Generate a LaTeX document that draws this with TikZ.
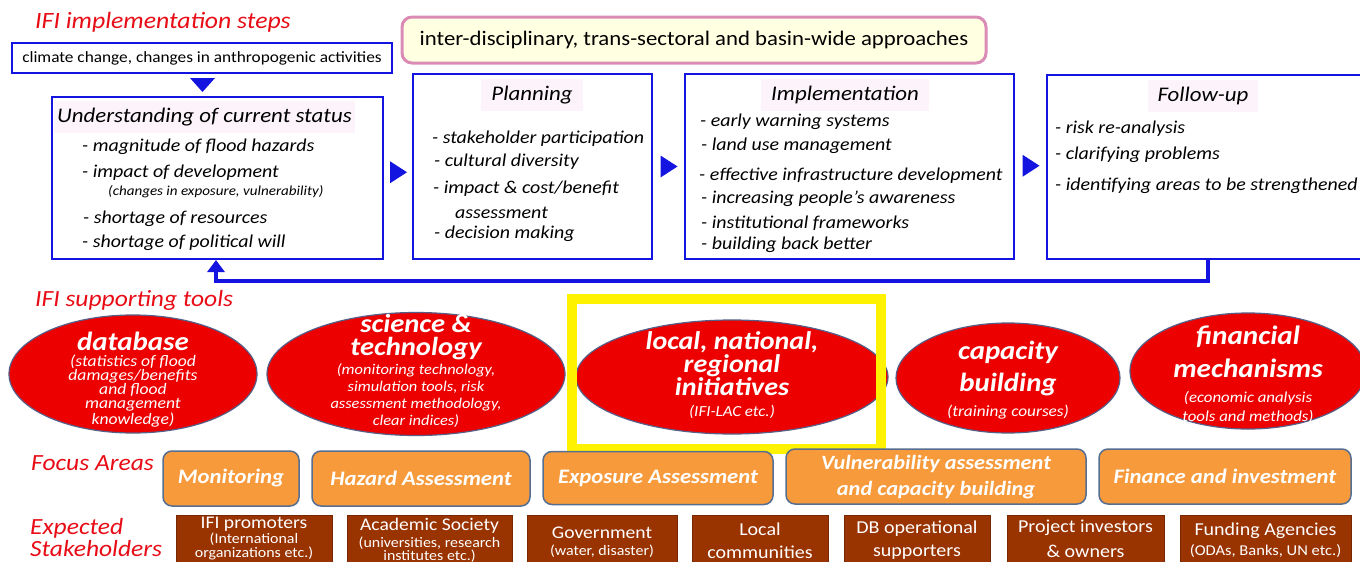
\documentclass[tikz,border=0pt]{standalone}
\usepackage{fontspec}
\setmainfont{Carlito}[FakeStretch=1.1]
\usetikzlibrary{shapes.geometric,arrows.meta,calc}
\definecolor{bb}{RGB}{20,20,225}
\definecolor{rt}{RGB}{232,12,22}
\definecolor{tbg}{RGB}{252,244,250}
\definecolor{pkb}{RGB}{218,140,182}
\definecolor{pkf}{RGB}{255,255,226}
\definecolor{er}{RGB}{236,0,0}
\definecolor{eb}{RGB}{85,95,135}
\definecolor{orf}{RGB}{247,154,60}
\definecolor{orb}{RGB}{85,110,145}
\definecolor{brf}{RGB}{153,51,0}
\definecolor{brb}{RGB}{120,40,0}
\newcommand{\fsz}[2]{\fontsize{#1}{#2}\selectfont}
\begin{document}
\begin{tikzpicture}[x=1pt,y=-1pt,
  stepbox/.style={draw=bb, line width=2pt, fill=white, inner sep=0pt},
  lbl/.style={text=rt, font=\itshape\fsz{23.2}{25}, anchor=west, inner sep=0pt},
  item/.style={font=\itshape\fsz{18.1}{20}, anchor=west, inner sep=0pt},
  ttl/.style={font=\itshape\fsz{20.8}{24}, fill=tbg, inner xsep=10pt, inner ysep=7pt},
  tool/.style={ellipse, draw=eb, line width=1.2pt, fill=er, inner sep=0pt},
  tbig/.style={text=white, font=\bfseries\itshape\fsz{25.5}{23}, align=center, inner sep=0pt},
  tsub/.style={text=white, font=\itshape\fsz{14.9}{17}, align=center, inner sep=0pt},
  focus/.style={rounded corners=9pt, draw=orb, line width=1.5pt, fill=orf, text=white, font=\bfseries\itshape\fsz{20.6}{26}, inner sep=0pt, align=center},
  stake/.style={fill=brf, draw=brb, line width=0.8pt, inner sep=0pt},
  stxt/.style={text=white, font=\fsz{17.8}{20}, inner sep=0pt},
  ssub/.style={text=white, font=\fsz{14.5}{15}, inner sep=0pt},
  tri/.style={fill=bb},
  fb/.style={draw=bb, line width=4pt, -{Triangle[length=12pt,width=17pt]}}
]
\useasboundingbox (0,0) rectangle (1360,562);
\fill[white] (0,0) rectangle (1360,562);

% ---------- implementation steps ----------
\node[lbl, font=\itshape\fsz{23.4}{26}] (l1) at (35,22) {IFI implementation steps};
\node[rounded corners=10pt, draw=pkb, line width=3pt, fill=pkf, minimum width=584pt, minimum height=46pt, inner sep=0pt, font=\fsz{20.7}{22}] (ap) at (694,40) {inter-disciplinary, trans-sectoral and basin-wide approaches};

\node[stepbox, minimum width=380pt, minimum height=30pt, font=\fsz{15.7}{17}] (cl) at (202,58) {climate change, changes in anthropogenic activities};

\node[stepbox, minimum width=331pt, minimum height=162pt] (us) at (217.5,178) {};
\node[stepbox, minimum width=239pt, minimum height=185pt] (pl) at (532.5,166.5) {};
\node[stepbox, minimum width=329pt, minimum height=185pt] (im) at (849.5,166.5) {};
\node[stepbox, minimum width=330pt, minimum height=184pt] (fu) at (1212,167) {};

% arrows between steps
\fill[tri] ($(cl.south)+(-12,4)$) -- ++(25,0) -- ++(-12.5,14) -- cycle;
\fill[tri] ($(us.east)!0.5!(pl.west)+(-8,-11)$) -- ++(17,11) -- ++(-17,11) -- cycle;
\fill[tri] ($(pl.east)!0.5!(im.west)+(-8,-11)$) -- ++(17,11) -- ++(-17,11) -- cycle;
\fill[tri] ($(im.east)!0.5!(fu.west)+(-8,-12)$) -- ++(17,11) -- ++(-17,11) -- cycle;

% Understanding
\node[ttl, anchor=west, inner xsep=3pt] (ust) at (54,117) {Understanding of current status};
\node[item] (u1) at (82,147) {- magnitude of flood hazards};
\node[item] (u2) at (82,173) {- impact of development};
\node[item, font=\itshape\fsz{13.7}{15}] (u3) at (108,192) {(changes in exposure, vulnerability)};
\node[item] (u4) at (83,219) {- shortage of resources};
\node[item] (u5) at (82,243) {- shortage of political will};

% Planning
\node[ttl] (plt) at (532,95) {Planning};
\node[item] (p1) at (432,139) {- stakeholder participation};
\node[item] (p2) at (434,162) {- cultural diversity};
\node[item] (p3) at (433,189) {- impact \& cost/benefit};
\node[item] (p4) at (455,213) {assessment};
\node[item] (p5) at (434,234) {- decision making};

% Implementation
\node[ttl] (imt) at (845,95) {Implementation};
\node[item] (i1) at (700,122) {- early warning systems};
\node[item] (i2) at (701,146) {- land use management};
\node[item] (i3) at (699,176) {- effective infrastructure development};
\node[item] (i4) at (701,199) {- increasing people’s awareness};
\node[item] (i5) at (701,223) {- institutional frameworks};
\node[item] (i6) at (701,245) {- building back better};

% Follow-up
\node[ttl] (fut) at (1203,96) {Follow-up};
\node[item] (f1) at (1055,129) {- risk re-analysis};
\node[item] (f2) at (1055,155) {- clarifying problems};
\node[item] (f3) at (1055,186) {- identifying areas to be strengthened};

% feedback loop
\coordinate (fbs) at (1208,259);
\coordinate (fbe) at (216,259);
\draw[fb] (fu.south -| fbs) -- ++(0,21) -| (us.south -| fbe);

% ---------- supporting tools ----------
\node[lbl] (l2) at (35,300) {IFI supporting tools};

\node[tool, minimum width=248pt, minimum height=118pt] (db) at (133,374) {};
\node[tool, minimum width=298pt, minimum height=123pt] (st) at (416,374) {};
\node[tool, minimum width=312pt, minimum height=114pt] (li) at (732,377) {};
\node[tool, minimum width=224pt, minimum height=110pt] (cb) at (1008,378) {};
\node[tool, minimum width=236pt, minimum height=116pt] (fm) at (1248,371) {};

\node[tbig, font=\bfseries\itshape\fsz{26.3}{22}] (dbt) at (133,341) {database};
\node[tsub, font=\itshape\fsz{16}{14}] (dbs) at (133,391) {(statistics of flood\\damages/benefits\\and flood\\management\\knowledge)};

\node[tbig, font=\bfseries\itshape\fsz{26}{23}] (stt) at (416,337) {science \&\\technology};
\node[tsub] (sts) at (416,396) {(monitoring technology,\\simulation tools, risk\\assessment methodology,\\clear indices)};

\node[tbig] (lit) at (732,364) {local, national,\\regional\\initiatives};
\node[tsub, font=\itshape\fsz{15.4}{16}] (lis) at (732,412) {(IFI-LAC etc.)};

\node[tbig, font=\bfseries\itshape\fsz{26.2}{32}] (cbt) at (1008,369) {capacity\\building};
\node[tsub, font=\itshape\fsz{15.7}{17}] (cbs) at (1008,412) {(training courses)};

\node[tbig, font=\bfseries\itshape\fsz{26.5}{33}] (fmt) at (1248,352) {financial\\mechanisms};
\node[tsub, font=\itshape\fsz{15.3}{19}] (fms) at (1248,407) {(economic analysis\\tools and methods)};

\node[draw=yellow, line width=10pt, minimum width=309pt, minimum height=150pt, inner sep=0pt] (hl) at (726.5,374) {};

% ---------- focus areas ----------
\node[lbl] (l3) at (31,463) {Focus Areas};
\node[focus, minimum width=136pt, minimum height=55pt] (mo) at (231,478.5) {Monitoring};
\node[focus, minimum width=218pt, minimum height=55pt] (ha) at (421,478.5) {Hazard Assessment};
\node[focus, minimum width=230pt, minimum height=53pt] (ex) at (658,478) {Exposure Assessment};
\node[focus, minimum width=300pt, minimum height=55pt] (vu) at (936,476.5) {};
\node[text=white, font=\bfseries\itshape\fsz{20.3}{26}, align=center, inner sep=0pt] (vut) at (936,477) {Vulnerability assessment\\and capacity building};
\node[focus, minimum width=252pt, minimum height=55pt] (fi) at (1225,476.5) {Finance and investment};

% ---------- stakeholders ----------
\node[lbl] (l4) at (30,528) {Expected};
\node[lbl] (l5) at (30,549) {Stakeholders};

\node[stake, minimum width=156pt, minimum height=60pt] (ip) at (254,545) {};
\node[stake, minimum width=165pt, minimum height=60pt] (as) at (429.5,545) {};
\node[stake, minimum width=150pt, minimum height=60pt] (go) at (602,545) {};
\node[stake, minimum width=136pt, minimum height=60pt] (lc) at (760,545) {};
\node[stake, minimum width=146pt, minimum height=60pt] (dbo) at (917,545) {};
\node[stake, minimum width=157pt, minimum height=60pt] (pi) at (1085.5,545) {};
\node[stake, minimum width=171pt, minimum height=60pt] (fa) at (1265.5,545) {};

\node[stxt] (ip1) at (254,524) {IFI promoters};
\node[ssub] (ip2) at (254,539) {(International};
\node[ssub] (ip3) at (254,553) {organizations etc.)};

\node[stxt] (as1) at (429.5,526) {Academic Society};
\node[ssub] (as2) at (429.5,543) {(universities, research};
\node[ssub] (as3) at (429.5,556) {institutes etc.)};

\node[stxt] (go1) at (602,533) {Government};
\node[ssub] (go2) at (602,551) {(water, disaster)};

\node[stxt, font=\fsz{18.2}{20}] (lc1) at (760,529) {Local};
\node[stxt, font=\fsz{18.2}{20}] (lc2) at (760,552) {communities};

\node[stxt, font=\fsz{18.2}{20}] (db1) at (917,529) {DB operational};
\node[stxt, font=\fsz{18.2}{20}] (db2) at (917,552) {supporters};

\node[stxt, font=\fsz{18.2}{20}] (pi1) at (1085.5,528) {Project investors};
\node[stxt, font=\fsz{18.2}{20}] (pi2) at (1085.5,551) {\& owners};

\node[stxt, font=\fsz{18.2}{20}] (fa1) at (1265.5,531) {Funding Agencies};
\node[ssub, font=\fsz{15}{15}] (fa2) at (1265.5,551) {(ODAs, Banks, UN etc.)};
\end{tikzpicture}
\end{document}
